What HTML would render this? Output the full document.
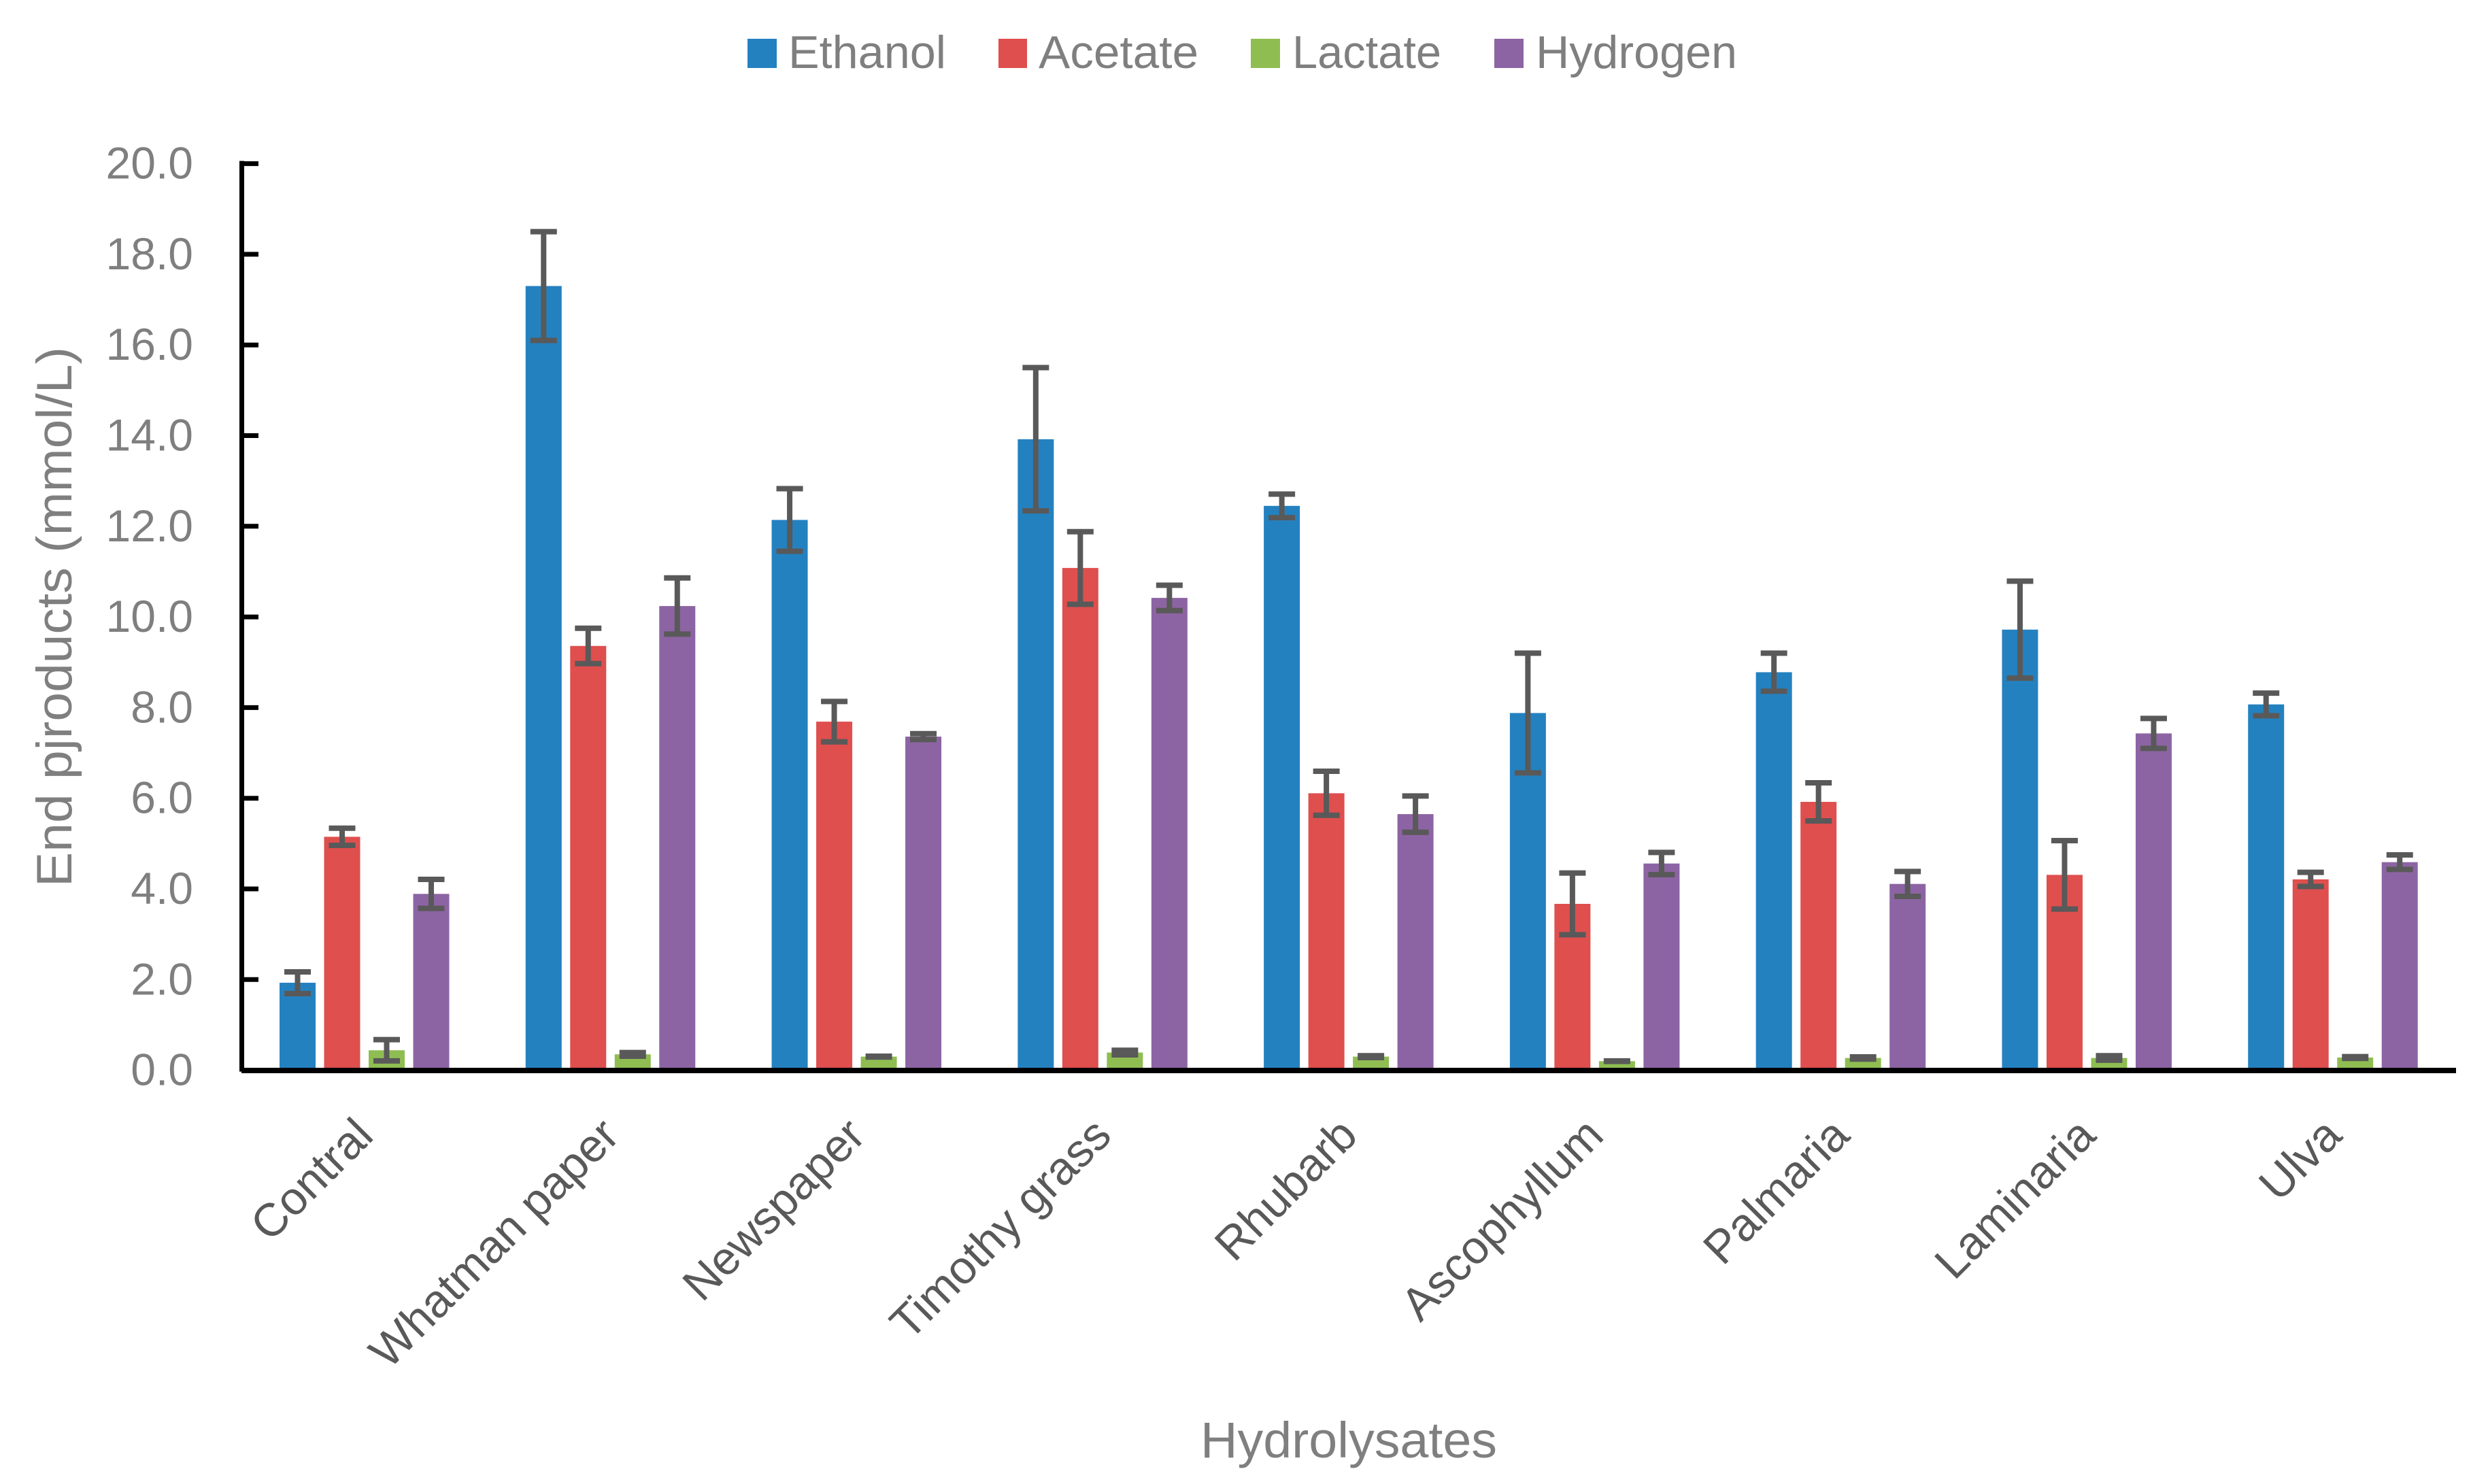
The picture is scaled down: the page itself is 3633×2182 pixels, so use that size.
<!DOCTYPE html>
<html lang="en">
<head>
<meta charset="utf-8">
<title>End products by hydrolysate</title>
<style>
html,body{margin:0;padding:0;background:#fff;}
svg{display:block;font-family:"Liberation Sans",sans-serif;}
</style>
</head>
<body>
<svg id="chart" xmlns="http://www.w3.org/2000/svg" width="3633" height="2182" viewBox="0 0 3633 2182">
  <rect x="0" y="0" width="3633" height="2182" fill="#ffffff"/>
  <g id="bars"></g>
  <g id="errors"></g>
  <g id="axes"></g>
  <g id="legend">
    <g>
      <rect x="1099" y="57" width="43" height="43" fill="#2481c0"/>
      <text x="1159" y="100" font-size="68" fill="#7f7f7f" textLength="232" lengthAdjust="spacingAndGlyphs">Ethanol</text>
    </g>
    <g>
      <rect x="1468" y="57" width="42" height="43" fill="#de4f4e"/>
      <text x="1527" y="100" font-size="68" fill="#7f7f7f" textLength="235" lengthAdjust="spacingAndGlyphs">Acetate</text>
    </g>
    <g>
      <rect x="1839" y="57" width="43" height="43" fill="#8fbd52"/>
      <text x="1900" y="100" font-size="68" fill="#7f7f7f" textLength="219" lengthAdjust="spacingAndGlyphs">Lactate</text>
    </g>
    <g>
      <rect x="2197" y="57" width="43" height="43" fill="#8c64a3"/>
      <text x="2258" y="100" font-size="68" fill="#7f7f7f" textLength="296" lengthAdjust="spacingAndGlyphs">Hydrogen</text>
    </g>
  </g>
  <text transform="translate(105,1304) rotate(-90)" font-size="73" fill="#7f7f7f" textLength="794" lengthAdjust="spacingAndGlyphs">End pjroducts (mmol/L)</text>
  <text x="1765" y="2143" font-size="74" fill="#7f7f7f" textLength="436" lengthAdjust="spacingAndGlyphs">Hydrolysates</text>
</svg>
<script>
const categories = ["Contral", "Whatman paper", "Newspaper", "Timothy grass", "Rhubarb", "Ascophyllum", "Palmaria", "Laminaria", "Ulva"];
const yTickValues = [0, 2, 4, 6, 8, 10, 12, 14, 16, 18, 20];
const yTickLabels = ["0.0", "2.0", "4.0", "6.0", "8.0", "10.0", "12.0", "14.0", "16.0", "18.0", "20.0"];

const ethanol = [1.93, 17.30, 12.14, 13.92, 12.45, 7.88, 8.78, 9.72, 8.07];
const acetate = [5.15, 9.36, 7.69, 11.08, 6.11, 3.67, 5.92, 4.31, 4.21];
const lactate = [0.44, 0.35, 0.30, 0.39, 0.30, 0.20, 0.27, 0.27, 0.28];
const hydrogen = [3.89, 10.24, 7.36, 10.42, 5.65, 4.56, 4.11, 7.43, 4.59];

const ethanolErr = [0.24, 1.20, 0.69, 1.58, 0.26, 1.32, 0.42, 1.07, 0.25];
const acetateErr = [0.19, 0.39, 0.445, 0.80, 0.485, 0.68, 0.42, 0.755, 0.155];
const lactateErr = [0.235, 0.04, 0.01, 0.05, 0.02, 0.005, 0.025, 0.05, 0.02];
const hydrogenErr = [0.32, 0.62, 0.065, 0.28, 0.40, 0.245, 0.275, 0.33, 0.16];

const seriesNames = ["ethanol", "acetate", "lactate", "hydrogen"];
const seriesValues = [ethanol, acetate, lactate, hydrogen];
const seriesErrors = [ethanolErr, acetateErr, lactateErr, hydrogenErr];
const seriesColors = ["#2481c0", "#de4f4e", "#8fbd52", "#8c64a3"];

const NS = "http://www.w3.org/2000/svg";
const plotLeft = 355, plotRight = 3611, plotZero = 1573.6, unitHeight = 66.65;
const bandWidth = (plotRight - plotLeft) / categories.length;
const barWidth = 53, barPitch = 65.5, groupOffset = 56;

function xBand(i) { return plotLeft + i * bandWidth; }
function yScale(v) { return plotZero - v * unitHeight; }
function make(tag, attrs) {
  const el = document.createElementNS(NS, tag);
  for (const k in attrs) el.setAttribute(k, attrs[k]);
  return el;
}

const barsLayer = document.getElementById("bars");
const errorsLayer = document.getElementById("errors");
const axesLayer = document.getElementById("axes");

seriesValues.forEach(function (values, s) {
  values.forEach(function (v, i) {
    const x = xBand(i) + groupOffset + s * barPitch;
    const top = yScale(v);
    const bar = make("rect", { x: x, y: top, width: barWidth, height: plotZero - top, fill: seriesColors[s] });
    
    
    barsLayer.appendChild(bar);

    const cx = x + barWidth / 2;
    const e = seriesErrors[s][i];
    const hi = yScale(v + e), lo = yScale(v - e);
    const err = make("path", {
      d: "M" + cx + " " + hi + "V" + lo + "M" + (cx - 19.5) + " " + hi + "H" + (cx + 19.5) + "M" + (cx - 19.5) + " " + lo + "H" + (cx + 19.5),
      fill: "none", stroke: "#595959", "stroke-width": 8
    });
    
    
    errorsLayer.appendChild(err);
  });
});

const yAxisLine = make("line", { x1: 355.5, x2: 355.5, y1: yScale(20) - 4, y2: plotZero + 2, stroke: "#000", "stroke-width": 7 });


axesLayer.appendChild(yAxisLine);

const xAxisLine = make("line", { x1: plotLeft, x2: plotRight, y1: 1574, y2: 1574, stroke: "#000", "stroke-width": 8 });


axesLayer.appendChild(xAxisLine);

yTickValues.forEach(function (t, i) {
  const y = yScale(t);
  if (t !== 0) {
    const tick = make("line", { x1: 355, x2: 380, y1: y, y2: y, stroke: "#000", "stroke-width": 7 });
    
    
    axesLayer.appendChild(tick);
  }
  const label = make("text", { x: 284, y: y + 22, "text-anchor": "end", "font-size": 66, fill: "#7f7f7f" });
  
  
  label.textContent = yTickLabels[i];
  axesLayer.appendChild(label);
});

categories.forEach(function (c, i) {
  const px = xBand(i) + bandWidth / 2 + 16;
  const label = make("text", { transform: "translate(" + px + ",1673) rotate(-45)", "text-anchor": "end", "font-size": 68, fill: "#595959" });
  
  
  label.textContent = c;
  axesLayer.appendChild(label);
});
</script>
</body>
</html>
